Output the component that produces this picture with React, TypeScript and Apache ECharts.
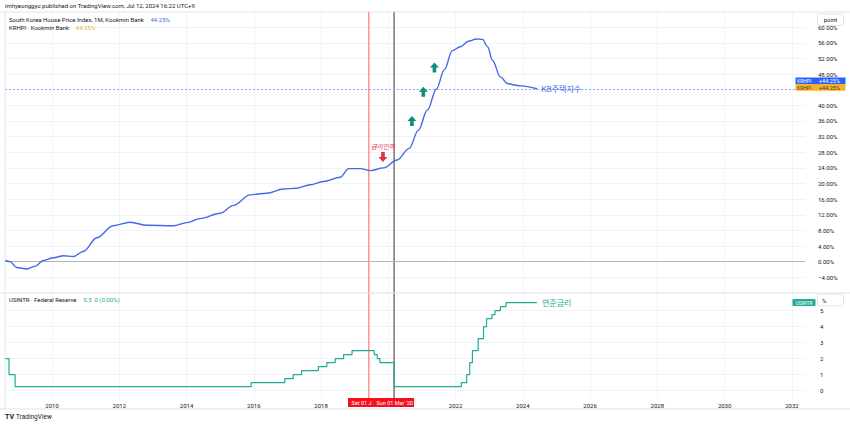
import React, { useEffect, useRef } from 'react';
import * as echarts from 'echarts';

// KB house price index (% change from start), decimal years
const kbYears = [2008.60, 2008.75, 2008.95, 2009.25, 2009.49, 2009.74, 2010.04, 2010.34, 2010.63, 2010.93, 2011.33, 2011.82, 2012.32, 2012.82, 2013.61, 2014.01, 2014.40, 2015.00, 2015.40, 2015.89, 2016.39, 2016.88, 2017.28, 2017.68, 2018.07, 2018.57, 2018.82, 2019.17, 2019.46, 2019.86, 2020.26, 2020.62, 2020.89, 2021.16, 2021.43, 2021.67, 2021.90, 2022.14, 2022.38, 2022.62, 2022.80, 2022.95, 2023.10, 2023.33, 2023.54, 2023.75, 2023.93, 2024.43];
const kbValues = [0.3, 0.0, -1.5, -1.9, -1.2, 0.3, 1.0, 1.5, 1.3, 2.6, 6.1, 9.2, 10.1, 9.3, 9.2, 10.0, 11.0, 12.4, 14.4, 17.1, 17.5, 18.6, 18.8, 19.7, 20.5, 21.6, 23.8, 23.8, 23.3, 24.0, 26.0, 29.0, 33.6, 38.8, 44.2, 49.2, 54.0, 55.0, 56.4, 57.0, 56.9, 55.0, 51.5, 47.3, 45.6, 45.2, 45.0, 44.25];

// US Federal Reserve rate, change points (value holds until next point)
const fedYears = [2008.60, 2008.72, 2008.90, 2015.92, 2016.92, 2017.17, 2017.42, 2017.92, 2018.17, 2018.42, 2018.67, 2018.92, 2019.58, 2019.67, 2019.75, 2020.17, 2022.17, 2022.33, 2022.42, 2022.50, 2022.67, 2022.83, 2022.92, 2023.08, 2023.17, 2023.33, 2023.50, 2024.42];
const fedValues = [2.0, 1.0, 0.25, 0.5, 0.75, 1.0, 1.25, 1.5, 1.75, 2.0, 2.25, 2.5, 2.25, 2.0, 1.75, 0.25, 0.5, 1.0, 1.75, 2.5, 3.25, 4.0, 4.5, 4.75, 5.0, 5.25, 5.5, 5.5];

const yearTicks = [2010, 2012, 2014, 2016, 2018, 2020, 2022, 2024, 2026, 2028, 2030, 2032];
const yearLabels = [2010, 2012, 2014, 2016, 2018, 2022, 2024, 2026, 2028, 2030, 2032]; // 2020 is covered by the date marker
const pctTicks = [-4, 0, 4, 8, 12, 16, 20, 24, 28, 32, 36, 40, 44, 48, 52, 56, 60];
const pctLabels = [-4, 0, 4, 8, 12, 16, 20, 24, 28, 32, 36, 40, 48, 52, 56, 60]; // 44 is covered by the price badges
const rateTicks = [0, 1, 2, 3, 4, 5];
const cutJun19 = 2019.42;
const cutMar20 = 2020.17;
const lastKB = 44.25;
const upArrows = [[2020.70, 36.0], [2021.04, 43.5], [2021.37, 49.7]];
const downArrow = [2019.84, 26.8];
const downLabelPos = [2019.84, 29.6];

const TOP_MIN = -8, TOP_MAX = 64;
const BOT_MIN = -0.456, BOT_MAX = 6.106;

const FONT = 'Roboto, "Noto Sans", sans-serif';
const KFONT = '"Noto Sans CJK KR", "Noto Sans", sans-serif';
const BLUE = '#4169e8';
const TEAL = '#22ab94';
const ORANGE = '#f7b02c';
const GRIDC = '#f0f3fa';
const RED_LINE = '#ff5a60';
const DARK_LINE = '#4a2a2a';

const UP = 'path://M5,0L10,5H7V10H3V5H0Z';
const DOWN = 'path://M3,0H7V5H10L5,10L0,5H3Z';

export default function App() {
  const ref = useRef<HTMLDivElement>(null);
  useEffect(() => {
    const chart = echarts.init(ref.current!, null, { renderer: 'svg' });
    const kbData = kbYears.map((y, i) => [y, kbValues[i]]);
    const fedData = fedYears.map((y, i) => [y, fedValues[i]]);
    const xCommon = {
      type: 'value' as const,
      min: 2008.6,
      max: 2032.39,
      axisLine: { show: false },
      axisTick: { show: false, customValues: yearTicks },
      splitLine: { show: true, lineStyle: { color: GRIDC, width: 1 } },
    };
    const vSeries = (x: number, color: string, axis: number, lo: number, hi: number) => ({
      type: 'line',
      xAxisIndex: axis,
      yAxisIndex: axis,
      data: [[x, lo], [x, hi]],
      showSymbol: false,
      silent: true,
      lineStyle: { color, width: 1, opacity: 1 },
      itemStyle: { color },
      z: 4,
    });
    const option: any = {
      animation: false,
      backgroundColor: '#ffffff',
      textStyle: { fontFamily: FONT },
      grid: [
        { left: 5, right: 45, top: 11.6, height: 281.3 },
        { left: 5, right: 45, top: 293, height: 105 },
      ],
      xAxis: [
        { ...xCommon, gridIndex: 0, axisLabel: { show: false, customValues: yearTicks } },
        {
          ...xCommon,
          gridIndex: 1,
          axisLabel: {
            show: true,
            customValues: yearLabels,
            formatter: (v: number) => String(Math.round(v)),
            fontSize: 6,
            color: '#131722',
            margin: 4,
            fontFamily: FONT,
          },
        },
      ],
      yAxis: [
        {
          type: 'value',
          gridIndex: 0,
          position: 'right',
          min: TOP_MIN,
          max: TOP_MAX,
          axisLine: { show: false },
          axisTick: { show: false, customValues: pctTicks },
          splitLine: { show: true, lineStyle: { color: GRIDC } },
          axisLabel: {
            customValues: pctLabels,
            formatter: (v: number) => v.toFixed(2).replace('-', '\u2212') + '%',
            fontSize: 6,
            color: '#131722',
            margin: 13,
            align: 'left',
            fontFamily: FONT,
          },
        },
        {
          type: 'value',
          gridIndex: 1,
          position: 'right',
          min: BOT_MIN,
          max: BOT_MAX,
          axisLine: { show: false },
          axisTick: { show: false, customValues: rateTicks },
          splitLine: { show: true, lineStyle: { color: GRIDC } },
          axisLabel: {
            customValues: rateTicks,
            formatter: (v: number) => String(Math.round(v)),
            fontSize: 6,
            color: '#131722',
            margin: 15,
            align: 'left',
            fontFamily: FONT,
          },
        },
      ],
      series: [
        vSeries(cutJun19, RED_LINE, 0, TOP_MIN, TOP_MAX),
        vSeries(cutMar20, DARK_LINE, 0, TOP_MIN, TOP_MAX),
        vSeries(cutJun19, RED_LINE, 1, BOT_MIN, BOT_MAX),
        vSeries(cutMar20, DARK_LINE, 1, BOT_MIN, BOT_MAX),
        {
          name: 'KRHPI',
          type: 'line',
          xAxisIndex: 0,
          yAxisIndex: 0,
          data: kbData,
          showSymbol: false,
          smooth: 0.35,
          smoothMonotone: 'x',
          lineStyle: { color: BLUE, width: 1.4 },
          itemStyle: { color: BLUE },
          z: 5,
          endLabel: {
            show: true,
            formatter: 'KB주택지수',
            color: BLUE,
            fontSize: 8,
            fontFamily: KFONT,
            distance: 4,
          },
          markLine: {
            silent: true,
            symbol: ['none', 'none'],
            label: { show: false },
            data: [
              { yAxis: 0, lineStyle: { color: '#b2b5be', width: 1, type: 'solid' } },
              { yAxis: lastKB, lineStyle: { color: '#8fa8f2', width: 1, type: [2, 2] } },
            ],
          },
          markPoint: {
            silent: true,
            data: [
              ...upArrows.map((p) => ({ coord: p, symbol: UP, symbolSize: [9, 10], itemStyle: { color: '#0b8f78' }, label: { show: false } })),
              { coord: downArrow, symbol: DOWN, symbolSize: [9, 10], itemStyle: { color: '#e0313f' }, label: { show: false } },
              {
                coord: downLabelPos,
                symbol: 'circle',
                symbolSize: 0,
                label: {
                  show: true,
                  position: 'inside',
                  formatter: '금리인하',
                  color: '#e0313f',
                  fontSize: 6.5,
                  fontStyle: 'italic',
                  fontFamily: KFONT,
                },
              },
            ],
          },
        },
        {
          name: 'USINTR',
          type: 'line',
          xAxisIndex: 1,
          yAxisIndex: 1,
          data: fedData,
          step: 'end',
          showSymbol: false,
          lineStyle: { color: TEAL, width: 1.2 },
          itemStyle: { color: TEAL },
          z: 5,
          endLabel: {
            show: true,
            formatter: '연준금리',
            color: TEAL,
            fontSize: 8,
            fontFamily: KFONT,
            distance: 5,
          },
        },
      ],
      graphic: [
        // frame and pane separator
        { type: 'line', z: 50, shape: { x1: 0, y1: 12, x2: 850, y2: 12 }, style: { stroke: '#e0e3eb', lineWidth: 1 } },
        { type: 'line', z: 50, shape: { x1: 0, y1: 293, x2: 850, y2: 293 }, style: { stroke: '#e0e3eb', lineWidth: 1.2 } },
        { type: 'line', z: 50, shape: { x1: 0, y1: 409, x2: 850, y2: 409 }, style: { stroke: '#e0e3eb', lineWidth: 1 } },
        { type: 'line', z: 50, shape: { x1: 5, y1: 12, x2: 5, y2: 409 }, style: { stroke: '#e0e3eb', lineWidth: 1 } },
        // header
        {
          type: 'text', z: 60, x: 5, y: 5,
          style: { text: 'imhyeonggyu published on TradingView.com, Jul 12, 2024 16:22 UTC+9', fontSize: 6, fill: '#131722', fontFamily: FONT, verticalAlign: 'middle' },
        },
        {
          type: 'text', z: 60, x: 9, y: 19,
          style: {
            text: '{a|South Korea House Price Index, 1M, Kookmin Bank}  {b|44.25%}',
            verticalAlign: 'middle',
            rich: {
              a: { fontSize: 6, fill: '#131722', fontFamily: FONT },
              b: { fontSize: 6, fill: BLUE, fontFamily: FONT },
            },
          },
        },
        {
          type: 'text', z: 60, x: 9, y: 27,
          style: {
            text: '{a|KRHPI · Kookmin Bank}  {b|44.25%}',
            verticalAlign: 'middle',
            rich: {
              a: { fontSize: 6, fill: '#131722', fontFamily: FONT },
              b: { fontSize: 6, fill: ORANGE, fontFamily: FONT },
            },
          },
        },
        {
          type: 'text', z: 60, x: 9, y: 299,
          style: {
            text: '{a|USINTR · Federal Reserve}  {b|5.5  0 (0.00%)}',
            verticalAlign: 'middle',
            rich: {
              a: { fontSize: 6, fill: '#131722', fontFamily: FONT },
              b: { fontSize: 6, fill: TEAL, fontFamily: FONT },
            },
          },
        },
        // scale boxes
        { type: 'rect', z: 70, shape: { x: 817.5, y: 14, width: 26, height: 11.5, r: 2 }, style: { fill: '#ffffff', stroke: '#e0e3eb', lineWidth: 1 } },
        { type: 'text', z: 71, x: 830.5, y: 19.8, style: { text: 'point', fontSize: 6, fill: '#131722', align: 'center', verticalAlign: 'middle', fontFamily: FONT } },
        { type: 'rect', z: 70, shape: { x: 817.5, y: 294, width: 26, height: 12, r: 2 }, style: { fill: '#ffffff', stroke: '#e0e3eb', lineWidth: 1 } },
        { type: 'text', z: 71, x: 822, y: 300, style: { text: '%', fontSize: 6, fill: '#131722', align: 'left', verticalAlign: 'middle', fontFamily: FONT } },
        // price badges
        { type: 'rect', z: 70, shape: { x: 795.5, y: 77.5, width: 50, height: 6.6 }, style: { fill: '#2962ff' } },
        { type: 'text', z: 71, x: 797, y: 80.9, style: { text: 'KRHPI', fontSize: 5, fill: '#ffffff', verticalAlign: 'middle', fontFamily: FONT } },
        { type: 'text', z: 71, x: 819, y: 80.9, style: { text: '+44.25%', fontSize: 5.5, fill: '#ffffff', verticalAlign: 'middle', fontFamily: FONT } },
        { type: 'rect', z: 70, shape: { x: 795.5, y: 84.1, width: 50, height: 6.6 }, style: { fill: ORANGE } },
        { type: 'text', z: 71, x: 797, y: 87.5, style: { text: 'KRHPI', fontSize: 5, fill: '#5a4a20', verticalAlign: 'middle', fontFamily: FONT } },
        { type: 'text', z: 71, x: 819, y: 87.5, style: { text: '+44.25%', fontSize: 5.5, fill: '#4a3d1a', verticalAlign: 'middle', fontFamily: FONT } },
        { type: 'rect', z: 70, shape: { x: 792.5, y: 299, width: 23, height: 7, r: 1 }, style: { fill: TEAL } },
        { type: 'text', z: 71, x: 804, y: 302.6, style: { text: 'USINTR', fontSize: 5, fill: '#ffffff', align: 'center', verticalAlign: 'middle', fontFamily: FONT } },
        // date markers on x-axis
        { type: 'rect', z: 70, shape: { x: 348, y: 398, width: 66, height: 9 }, style: { fill: '#f5101f' } },
        { type: 'text', z: 71, x: 351.5, y: 402.7, style: { text: 'Sat 01 J', fontSize: 5.5, fill: '#ffffff', verticalAlign: 'middle', fontFamily: FONT } },
        { type: 'text', z: 71, x: 376.5, y: 402.7, style: { text: "Sun 01 Mar '20", fontSize: 5.5, fill: '#ffffff', verticalAlign: 'middle', fontFamily: FONT } },
        // TradingView logo
        { type: 'text', z: 60, x: 5, y: 417, style: { text: 'TV', fontSize: 7, fontWeight: 'bold', fill: '#131722', verticalAlign: 'middle', fontFamily: FONT } },
        { type: 'text', z: 60, x: 16, y: 417, style: { text: 'TradingView', fontSize: 6.5, fill: '#131722', verticalAlign: 'middle', fontFamily: FONT } },
      ],
    };
    chart.setOption(option);
    return () => chart.dispose();
  }, []);
  return <div ref={ref} style={{ position: 'absolute', left: 0, top: 0, width: 850, height: 426 }} />;
}
